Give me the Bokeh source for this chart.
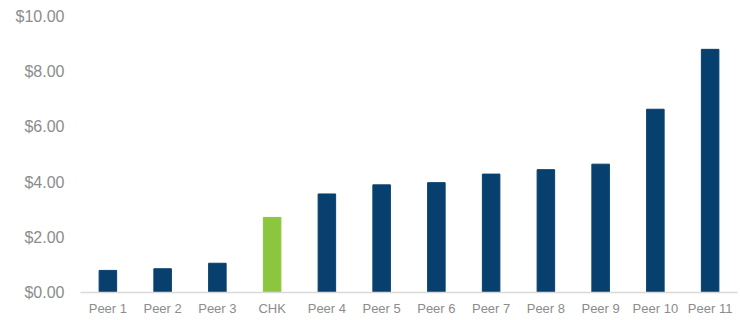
from bokeh.plotting import figure
from bokeh.models import ColumnDataSource, Range1d, NumeralTickFormatter, FixedTicker
from bokeh.embed import file_html
from bokeh.resources import INLINE

categories = ["Peer 1", "Peer 2", "Peer 3", "CHK", "Peer 4", "Peer 5", "Peer 6",
              "Peer 7", "Peer 8", "Peer 9", "Peer 10", "Peer 11"]
values = [0.80, 0.86, 1.06, 2.72, 3.57, 3.90, 3.98, 4.29, 4.45, 4.65, 6.64, 8.81]
highlight = "CHK"
y_ticks = [0, 2, 4, 6, 8, 10]

NAVY = "#07406f"
GREEN = "#8cc63f"
colors = [GREEN if c == highlight else NAVY for c in categories]

source = ColumnDataSource(dict(cat=categories, val=values, color=colors))

p = figure(x_range=categories, width=740, height=320, output_backend="svg",
           toolbar_location=None, min_border_left=80, min_border_right=3,
           min_border_top=16, min_border_bottom=28)
p.y_range = Range1d(0, 10)

p.vbar(x="cat", top="val", width=0.32, color="color", source=source)

p.xgrid.visible = False
p.ygrid.visible = False
p.outline_line_color = None
p.background_fill_color = "white"
p.border_fill_color = "white"

p.yaxis.ticker = FixedTicker(ticks=y_ticks)
p.yaxis.formatter = NumeralTickFormatter(format="$0.00")
p.yaxis.axis_line_color = None
p.yaxis.major_tick_line_color = None
p.yaxis.minor_tick_line_color = None
p.yaxis.major_tick_out = 0
p.yaxis.major_tick_in = 0
p.yaxis.major_label_standoff = 16
p.yaxis.major_label_text_font = "Liberation Sans"
p.yaxis.major_label_text_font_size = "16px"
p.yaxis.major_label_text_color = "#8c8c8c"

p.xaxis.axis_line_color = "#d9d9d9"
p.xaxis.axis_line_width = 1.5
p.xaxis.major_tick_line_color = None
p.xaxis.minor_tick_line_color = None
p.xaxis.major_tick_out = 0
p.xaxis.major_tick_in = 0
p.xaxis.major_label_standoff = 8
p.xaxis.major_label_text_font = "Liberation Sans"
p.xaxis.major_label_text_font_size = "13px"
p.xaxis.major_label_text_color = "#8c8c8c"
p.x_range.range_padding = 0

open("out.html", "w").write(file_html(p, INLINE))
